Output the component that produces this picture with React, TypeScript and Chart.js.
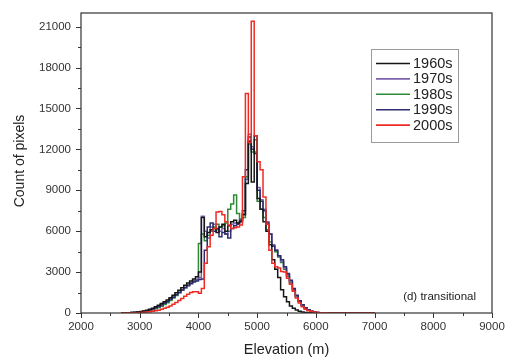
import React, { useEffect, useRef } from 'react';
import { Chart, registerables } from 'chart.js';

Chart.register(...registerables);

// Bin left edges (m), 50 m bins
const elevations = [
  2700, 2750, 2800, 2850, 2900, 2950, 3000, 3050, 3100, 3150,
  3200, 3250, 3300, 3350, 3400, 3450, 3500, 3550, 3600, 3650,
  3700, 3750, 3800, 3850, 3900, 3950, 4000, 4050, 4100, 4150,
  4200, 4250, 4300, 4350, 4400, 4450, 4500, 4550, 4600, 4650,
  4700, 4750, 4800, 4850, 4900, 4950, 5000, 5050, 5100, 5150,
  5200, 5250, 5300, 5350, 5400, 5450, 5500, 5550, 5600, 5650,
  5700, 5750, 5800, 5850, 5900, 5950, 6000, 6050, 6100, 6150,
  6200, 6250, 6300, 6350, 6400, 6450, 6500, 6550, 6600, 6650,
  6700, 6750, 6800, 6850, 6900, 6950,
];
const lastEdge = 7000;

const counts1960s = [
  5, 10, 15, 25, 40, 55, 80, 110, 150, 200,
  270, 350, 450, 560, 690, 830, 960, 1120, 1300, 1480,
  1660, 1850, 2030, 2200, 2350, 2500, 2650, 3000, 7000, 5600,
  5900, 6100, 6200, 5900, 6300, 6500, 6000, 6400, 6700, 6800,
  6600, 6700, 7200, 9500, 12600, 9600, 13000, 8400, 7600, 6700,
  6000, 5000, 3900, 3200, 2600, 1700, 1200, 830, 520, 340,
  220, 130, 80, 45, 25, 12, 6, 3, 0, 0,
  0, 0, 0, 0, 0, 0, 0, 0, 0, 0,
  0, 0, 0, 0, 0, 0,
];
const counts1970s = [
  3, 8, 12, 20, 30, 45, 65, 90, 125, 170,
  230, 300, 390, 490, 600, 730, 860, 1010, 1180, 1350,
  1520, 1700, 1870, 2030, 2180, 2320, 2450, 2600, 7100, 6000,
  5500, 6300, 6500, 6100, 6000, 6200, 5800, 6000, 6500, 6600,
  6600, 6800, 7300, 9800, 13100, 12200, 11800, 9200, 8300, 7600,
  6700, 5800, 5000, 4600, 4200, 3800, 3300, 2800, 2300, 1750,
  1250, 880, 580, 370, 230, 130, 70, 40, 20, 10,
  5, 3, 1, 0, 0, 0, 0, 0, 0, 0,
  0, 0, 0, 0, 0, 0,
];
const counts1980s = [
  2, 5, 10, 15, 22, 32, 45, 65, 90, 125,
  170, 230, 310, 400, 500, 620, 760, 920, 1100, 1290,
  1480, 1680, 1870, 2050, 2220, 2380, 2450, 5100, 5800, 5300,
  5700, 6000, 6300, 6500, 6300, 6400, 6600, 7600, 8000, 8650,
  7300, 6900, 7000, 10000, 12400, 11800, 12700, 8200, 7600, 7000,
  6100, 5200, 4900, 4500, 4100, 3700, 3200, 2700, 2200, 1650,
  1200, 850, 560, 360, 220, 130, 70, 40, 20, 10,
  5, 3, 1, 0, 0, 0, 0, 0, 0, 0,
  0, 0, 0, 0, 0, 0,
];
const counts1990s = [
  3, 7, 12, 18, 28, 42, 60, 85, 120, 160,
  220, 290, 380, 480, 590, 720, 850, 1000, 1160, 1330,
  1500, 1680, 1850, 2000, 2150, 2280, 2350, 2450, 2500, 4600,
  6300, 6600, 6000, 6200, 5600, 5900, 5800, 5500, 6200, 6400,
  6500, 6800, 7500, 10500, 12900, 12000, 11700, 9000, 8200, 7500,
  6600, 5800, 4900, 4600, 4200, 3900, 3400, 2900, 2400, 1800,
  1300, 900, 600, 380, 230, 130, 70, 40, 20, 10,
  5, 3, 1, 0, 0, 0, 0, 0, 0, 0,
  0, 0, 0, 0, 0, 0,
];
const counts2000s = [
  2, 4, 6, 9, 13, 18, 25, 35, 48, 65,
  90, 120, 160, 210, 270, 340, 420, 520, 640, 770,
  910, 1060, 1220, 1380, 1500, 1560, 1560, 1450, 1800, 3650,
  4850, 5700, 6200, 7400, 7450, 7200, 6700, 6450, 6200, 6250,
  6300, 6450, 10000, 16100, 12500, 21400, 13000, 11100, 10500, 8500,
  6500, 4600, 3650, 3400, 3300, 3050, 3000, 2550, 2100, 1600,
  1100, 730, 450, 280, 170, 110, 70, 40, 25, 15,
  10, 7, 5, 3, 2, 1, 1, 0, 0, 0,
  0, 0, 0, 0, 0, 0,
];

const seriesNames = ['1960s', '1970s', '1980s', '1990s', '2000s'];
const seriesCounts = [counts1960s, counts1970s, counts1980s, counts1990s, counts2000s];
const seriesColors = ['#161616', '#7d62ad', '#2f8a35', '#2c2c6e', '#ee2b25'];
const seriesOrder = [1, 3, 4, 2, 0];

const xTicks = [2000, 3000, 4000, 5000, 6000, 7000, 8000, 9000];
const xMinorTicks = [2500, 3500, 4500, 5500, 6500, 7500, 8500];
const yTicks = [0, 3000, 6000, 9000, 12000, 15000, 18000, 21000];
const yMinorTicks = [1500, 4500, 7500, 10500, 13500, 16500, 19500];

const xTitle = 'Elevation (m)';
const yTitle = 'Count of pixels';
const panelNote = '(d) transitional';

const FONT = '"Liberation Sans", Arial, sans-serif';
const AXIS = '#333333';

const decorPlugin = {
  id: 'decor',
  afterDraw(chart: any) {
    const { ctx, chartArea: a, scales } = chart;
    const xs = scales.x;
    const ys = scales.y;
    ctx.save();
    // frame
    ctx.strokeStyle = AXIS;
    ctx.lineWidth = 1.2;
    ctx.strokeRect(a.left, a.top, a.right - a.left, a.bottom - a.top);
    // ticks
    ctx.lineWidth = 1;
    ctx.beginPath();
    xTicks.forEach((v) => {
      const px = Math.round(xs.getPixelForValue(v)) + 0.5;
      ctx.moveTo(px, a.bottom);
      ctx.lineTo(px, a.bottom + 5);
    });
    xMinorTicks.forEach((v) => {
      const px = Math.round(xs.getPixelForValue(v)) + 0.5;
      ctx.moveTo(px, a.bottom);
      ctx.lineTo(px, a.bottom + 3);
    });
    yTicks.forEach((v) => {
      const py = Math.round(ys.getPixelForValue(v)) + 0.5;
      ctx.moveTo(a.left, py);
      ctx.lineTo(a.left - 5, py);
    });
    yMinorTicks.forEach((v) => {
      const py = Math.round(ys.getPixelForValue(v)) + 0.5;
      ctx.moveTo(a.left, py);
      ctx.lineTo(a.left - 3, py);
    });
    ctx.stroke();

    // axis titles
    ctx.fillStyle = '#222';
    ctx.font = `14.5px ${FONT}`;
    ctx.textAlign = 'center';
    ctx.textBaseline = 'middle';
    ctx.fillText(xTitle, (a.left + a.right) / 2, 350);
    ctx.save();
    ctx.translate(20, 161);
    ctx.rotate(-Math.PI / 2);
    ctx.font = `14px ${FONT}`;
    ctx.fillText(yTitle, 0, 0);
    ctx.restore();

    // panel note
    ctx.font = `11.5px ${FONT}`;
    ctx.textAlign = 'right';
    ctx.fillStyle = '#222';
    ctx.fillText(panelNote, a.right - 16, a.bottom - 16);

    // legend
    const bx = 371.5, by = 49.5, bw = 87, bh = 93;
    ctx.fillStyle = '#fff';
    ctx.fillRect(bx, by, bw, bh);
    ctx.strokeStyle = '#9a9a9a';
    ctx.lineWidth = 1;
    ctx.strokeRect(bx, by, bw, bh);
    ctx.font = `14.5px ${FONT}`;
    ctx.textAlign = 'left';
    ctx.textBaseline = 'middle';
    seriesNames.forEach((name, i) => {
      const ry = 63.5 + i * 15.4;
      ctx.strokeStyle = seriesColors[i];
      ctx.lineWidth = 1.6;
      ctx.beginPath();
      ctx.moveTo(376, ry);
      ctx.lineTo(410, ry);
      ctx.stroke();
      ctx.fillStyle = '#222';
      ctx.fillText(name, 413, ry + 0.5);
    });
    ctx.restore();
  },
};

export default function App() {
  const canvasRef = useRef<HTMLCanvasElement | null>(null);

  useEffect(() => {
    document.body.style.margin = '0';
    const canvas = canvasRef.current;
    if (!canvas) return;
    const datasets = seriesNames.map((name, i) => {
      const vals = seriesCounts[i];
      const pts = elevations.map((e, j) => ({ x: e, y: vals[j] }));
      pts.push({ x: lastEdge, y: vals[vals.length - 1] });
      return {
        label: name,
        data: pts,
        borderColor: seriesColors[i],
        backgroundColor: seriesColors[i],
        borderWidth: 1.5,
        pointRadius: 0,
        stepped: 'after' as const,
        fill: false,
        order: seriesOrder[i],
      };
    });
    const tickFont = { family: FONT, size: 11.5 };
    const chart = new Chart(canvas, {
      type: 'line',
      data: { datasets },
      options: {
        animation: false,
        responsive: false,
        maintainAspectRatio: false,
        devicePixelRatio: 1,
        layout: { padding: { top: 13, right: 15, left: 0, bottom: 0 } },
        plugins: { legend: { display: false }, tooltip: { enabled: false } },
        scales: {
          x: {
            type: 'linear',
            min: 2000,
            max: 9000,
            afterBuildTicks: (s: any) => {
              s.ticks = xTicks.map((v) => ({ value: v }));
            },
            afterFit: (s: any) => {
              s.height = 51;
            },
            grid: { display: false, drawTicks: true, tickLength: 5 },
            border: { display: false },
            ticks: {
              padding: 2,
              font: tickFont,
              color: '#333',
              maxRotation: 0,
              autoSkip: false,
              callback: (v: any) => String(v),
            },
          },
          y: {
            type: 'linear',
            min: 0,
            max: 22000,
            afterBuildTicks: (s: any) => {
              s.ticks = yTicks.map((v) => ({ value: v }));
            },
            afterFit: (s: any) => {
              s.width = 81;
            },
            grid: { display: false, drawTicks: true, tickLength: 6 },
            border: { display: false },
            ticks: {
              padding: 4,
              font: tickFont,
              color: '#333',
              autoSkip: false,
              callback: (v: any) => String(v),
            },
          },
        },
      },
      plugins: [decorPlugin],
    });
    return () => chart.destroy();
  }, []);

  return (
    <div style={{ width: 507, height: 364, background: '#fff' }}>
      <canvas ref={canvasRef} width={507} height={364} style={{ display: 'block', width: 507, height: 364 }} />
    </div>
  );
}
